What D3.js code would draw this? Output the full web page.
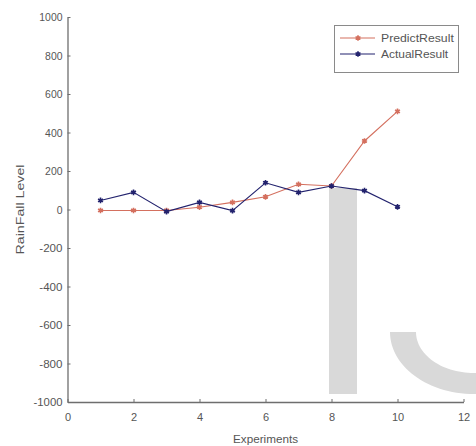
<!DOCTYPE html>
<html>
<head>
<meta charset="utf-8">
<script src="https://cdn.jsdelivr.net/npm/d3@7"></script>
<style>
  html, body { margin: 0; padding: 0; background: #fff; }
  svg { display: block; }
  text { font-family: "Liberation Sans", Arial, sans-serif; fill: #555; }
</style>
</head>
<body>
<div id="chart"></div>
<script>
// Experiment indices and rainfall levels
const experiments = [1, 2, 3, 4, 5, 6, 7, 8, 9, 10];
const predictResult = [-5, -5, -5, 12, 37, 66, 131, 122, 356, 510];
const actualResult = [47, 89, -11, 37, -6, 139, 89, 122, 98, 14];
const xTicks = [0, 2, 4, 6, 8, 10, 12];
const yTicks = [-1000, -800, -600, -400, -200, 0, 200, 400, 600, 800, 1000];
const seriesNames = ["PredictResult", "ActualResult"];
const seriesColors = ["#d4705f", "#23236e"];

const W = 476, H = 446;
const svg = d3.select("#chart").append("svg").attr("width", W).attr("height", H);

const x = d3.scaleLinear().domain([0, 12]).range([67.5, 463.5]);
const y = d3.scaleLinear().domain([-1000, 1000]).range([402, 17]);

// Faint background lettering
const wm = svg.append("g").attr("fill", "#d9d9d9");
wm.append("rect").attr("x", 329).attr("y", 188).attr("width", 28).attr("height", 206);
const cx = 474, cy = 332;
const outer = { rx: 84, ry: 62 }, inner = { rx: 58, ry: 41 };
const arcPath = d3.path();
arcPath.moveTo(cx - outer.rx, cy);
for (let t = 0; t <= 90; t += 3) {
  const a = (180 - t) * Math.PI / 180;
  arcPath.lineTo(cx + outer.rx * Math.cos(a), cy + outer.ry * Math.sin(a));
}
for (let t = 90; t >= 0; t -= 3) {
  const a = (180 - t) * Math.PI / 180;
  arcPath.lineTo(cx + inner.rx * Math.cos(a), cy + inner.ry * Math.sin(a));
}
arcPath.closePath();
wm.append("path").attr("d", arcPath.toString());
wm.append("rect").attr("x", cx).attr("y", cy + inner.ry).attr("width", 10).attr("height", outer.ry - inner.ry);

// Axes
const axisColor = "#6e6e6e";
const xAxis = svg.append("g").attr("transform", `translate(0,${y(-1000)})`)
  .call(d3.axisBottom(x).tickValues(xTicks).tickSizeInner(-3).tickSizeOuter(0).tickPadding(11));
const yAxis = svg.append("g").attr("transform", `translate(${x(0)},0)`)
  .call(d3.axisLeft(y).tickValues(yTicks).tickSizeInner(-3).tickSizeOuter(0).tickPadding(5));
[xAxis, yAxis].forEach(g => {
  g.select(".domain").attr("stroke", axisColor).attr("stroke-width", 1.3);
  g.selectAll(".tick line").attr("stroke", axisColor);
  g.selectAll(".tick text").attr("font-size", 11).attr("fill", "#555")
    .style("font-family", "'Liberation Sans', Arial, sans-serif");
});
yAxis.selectAll(".tick text").text(d => d < 0 ? "-" + Math.abs(d) : d)
  .attr("textLength", d => (String(d).length) * 5.8).attr("lengthAdjust", "spacingAndGlyphs");

// Axis titles
svg.append("text").attr("x", x(6)).attr("y", 443).attr("text-anchor", "middle")
  .attr("font-size", 11).attr("textLength", 65).attr("lengthAdjust", "spacingAndGlyphs")
  .text("Experiments");
svg.append("text").attr("transform", `translate(24,${y(0)}) rotate(-90)`)
  .attr("text-anchor", "middle").attr("font-size", 11)
  .attr("textLength", 90).attr("lengthAdjust", "spacingAndGlyphs").text("RainFall Level");

// Series lines and markers
const series = [predictResult, actualResult];
const line = d3.line().x((d, i) => x(experiments[i])).y(d => y(d));
const marker = d3.symbol().type(d3.symbolAsterisk).size(22);
series.forEach((vals, s) => {
  const g = svg.append("g");
  g.append("path").datum(vals).attr("d", line).attr("fill", "none")
    .attr("stroke", seriesColors[s]).attr("stroke-width", 1.1);
  g.selectAll("path.m").data(vals).join("path").attr("class", "m")
    .attr("transform", (d, i) => `translate(${x(experiments[i])},${y(d)})`)
    .attr("d", marker).attr("fill", "none")
    .attr("stroke", seriesColors[s]).attr("stroke-width", 1.6);
  g.selectAll("circle").data(vals).join("circle")
    .attr("cx", (d, i) => x(experiments[i])).attr("cy", d => y(d)).attr("r", 1.8)
    .attr("fill", seriesColors[s]);
});

// Legend
const lg = svg.append("g");
lg.append("rect").attr("x", 334.5).attr("y", 25.5).attr("width", 124).attr("height", 47)
  .attr("fill", "#fff").attr("stroke", "#8a8a8a").attr("stroke-width", 1);
seriesNames.forEach((name, i) => {
  const ly = 38 + i * 16;
  lg.append("line").attr("x1", 340).attr("x2", 375).attr("y1", ly).attr("y2", ly)
    .attr("stroke", seriesColors[i]).attr("stroke-width", 1.1);
  lg.append("path").attr("transform", `translate(358,${ly})`).attr("d", marker)
    .attr("fill", "none").attr("stroke", seriesColors[i]).attr("stroke-width", 1.6);
  lg.append("circle").attr("cx", 358).attr("cy", ly).attr("r", 1.8).attr("fill", seriesColors[i]);
  lg.append("text").attr("x", 381).attr("y", ly + 4).attr("font-size", 11)
    .attr("textLength", name.length * 5.6).attr("lengthAdjust", "spacingAndGlyphs").text(name);
});
</script>
</body>
</html>
